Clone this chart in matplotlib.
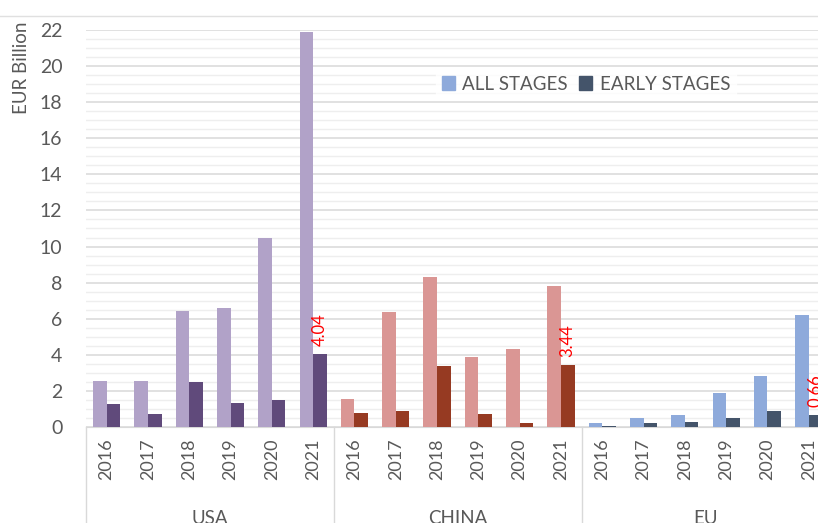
import numpy as np
import matplotlib.pyplot as plt
from matplotlib.patches import Patch
from matplotlib.lines import Line2D

plt.rcParams['font.family'] = ['Lato', 'DejaVu Sans']

# data
regions = ['USA', 'CHINA', 'EU']
years = ['2016', '2017', '2018', '2019', '2020', '2021']
usa_all = [2.53, 2.57, 6.43, 6.62, 10.5, 21.87]
usa_early = [1.28, 0.72, 2.50, 1.31, 1.52, 4.04]
china_all = [1.55, 6.36, 8.32, 3.90, 4.31, 7.84]
china_early = [0.80, 0.87, 3.40, 0.72, 0.24, 3.44]
eu_all = [0.24, 0.48, 0.65, 1.90, 2.83, 6.21]
eu_early = [0.07, 0.20, 0.30, 0.52, 0.91, 0.66]

all_series = [usa_all, china_all, eu_all]
early_series = [usa_early, china_early, eu_early]
light_cols = ['#b1a2c8', '#da9694', '#8eaadb']
dark_cols = ['#604a7b', '#963a22', '#44546a']

fig = plt.figure(figsize=(8.18, 5.23), dpi=100)
W, H = 818, 523
ax = fig.add_axes([86 / W, (H - 427) / H, (829.4 - 86) / W, (427 - 30) / H])

n = len(years)
w = 0.33
for g in range(3):
    x = np.arange(n) + g * n
    ax.bar(x - w / 2, all_series[g], w, color=light_cols[g], zorder=3)
    ax.bar(x + w / 2, early_series[g], w, color=dark_cols[g], zorder=3)
    # red label on last early bar
    last = early_series[g][-1]
    ax.annotate(f'{last:.2f}', (x[-1] + w / 2, last), xytext=(0, 6),
                textcoords='offset points', rotation=90, ha='center',
                va='bottom', color='red', fontsize=12, zorder=4)

ax.set_xlim(-0.5, 3 * n - 0.5)
ax.set_ylim(0, 22)
ax.set_yticks(np.arange(0, 23, 2))
ax.set_yticks(np.arange(0, 22.01, 0.5), minor=True)
ax.grid(axis='y', which='major', color='#d9d9d9', linewidth=1.1, zorder=0)
ax.grid(axis='y', which='minor', color='#eeeeee', linewidth=1.0, zorder=0)
ax.tick_params(axis='y', which='both', length=0, labelsize=14,
               labelcolor='#595959', pad=17)

ax.set_xticks(np.arange(3 * n))
ax.set_xticklabels(years * 3, rotation=90, fontsize=13, color='#595959')
ax.tick_params(axis='x', length=0, pad=8)

for s in ['top', 'right', 'left']:
    ax.spines[s].set_visible(False)
ax.spines['bottom'].set_color('#d9d9d9')

# group separators and region labels
for b in range(4):
    ax.plot([b * n - 0.5] * 2, [0, -0.3], color='#d9d9d9', lw=1,
            transform=ax.get_xaxis_transform(), clip_on=False)
for g, name in enumerate(regions):
    ax.text(g * n + (n - 1) / 2, -0.23, name, transform=ax.get_xaxis_transform(),
            ha='center', va='center', fontsize=13.5, color='#595959')

fig.text(22 / W, (H - 21) / H, 'EUR Billion', rotation=90, ha='center',
         va='top', fontsize=13.5, color='#595959')

# thin line along top
fig.add_artist(Line2D([0, 1], [(H - 16) / H] * 2, color='#e0e0e0', lw=1))

handles = [Patch(color='#8eaadb'), Patch(color='#44546a')]
leg = fig.legend(handles, ['ALL STAGES', 'EARLY STAGES'], ncol=2,
                 loc='center', bbox_to_anchor=(586 / W, (H - 84) / H),
                 frameon=True, facecolor='white', edgecolor='white',
                 fontsize=13.5, handlelength=0.7, handleheight=0.7,
                 handletextpad=0.4, columnspacing=0.6, borderpad=0.3)
for t in leg.get_texts():
    t.set_color('#595959')

fig.savefig('out.png', dpi=100)
